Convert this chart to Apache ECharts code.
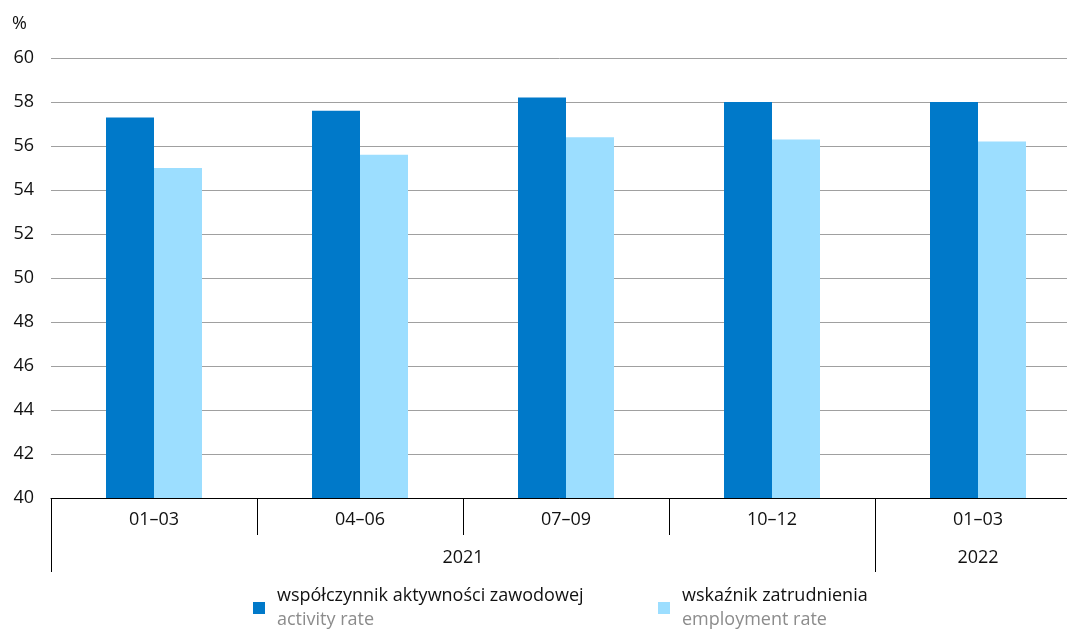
<!DOCTYPE html>
<html>
<head>
<meta charset="utf-8">
<script src="https://cdn.jsdelivr.net/npm/echarts@6/dist/echarts.min.js"></script>
<style>html,body{margin:0;padding:0;background:#fff}#c{width:1067px;height:629px}</style>
</head>
<body>
<div id="c"></div>
<script>
const categories = ['01–03', '04–06', '07–09', '10–12', '01–03'];
const activityRate = [57.3, 57.6, 58.2, 58.0, 58.0];
const employmentRate = [55.0, 55.6, 56.4, 56.3, 56.2];
const yearLabels = ['2021', '2022'];
const yearSpans = [[0, 4], [4, 5]];
const seriesNamesPL = ['współczynnik aktywności zawodowej', 'wskaźnik zatrudnienia'];
const seriesNamesEN = ['activity rate', 'employment rate'];
const yTicks = [40, 42, 44, 46, 48, 50, 52, 54, 56, 58, 60];

const FONT = 'Open Sans';
const FS = 18;
const yearCenters = yearSpans.map(s => (s[0] + s[1]) / 2);
const yearBounds = yearSpans.map(s => s[0]);

const chart = echarts.init(document.getElementById('c'));
const legendItem = (i, left) => ({
  data: [seriesNamesPL[i]],
  left: left, top: 582,
  itemWidth: 12, itemHeight: 12,
  icon: 'rect',
  formatter: n => '{a|' + n + '}\n{b|' + seriesNamesEN[i] + '}',
  textStyle: {
    padding: [0, 0, 0, 7],
    rich: {
      a: { fontFamily: FONT, fontSize: FS, color: '#111', lineHeight: 24 },
      b: { fontFamily: FONT, fontSize: FS, color: '#8c8c8c', lineHeight: 24 }
    }
  }
});
chart.setOption({
  animation: false,
  grid: { left: 51, width: 1030, top: 58, bottom: 131, containLabel: false, outerBoundsMode: 'none' },
  legend: [legendItem(0, 248), legendItem(1, 653)],
  xAxis: [{
    type: 'category',
    data: categories,
    boundaryGap: true,
    axisLine: { show: true, lineStyle: { color: '#000', width: 1 } },
    axisTick: { show: true, interval: 0, length: 37, lineStyle: { color: '#000', width: 1 } },
    axisLabel: { interval: 0, margin: 13, fontFamily: FONT, fontSize: FS, color: '#111' }
  }, {
    type: 'value',
    min: 0, max: categories.length,
    position: 'bottom',
    axisLine: { show: false },
    splitLine: { show: false },
    axisTick: { show: true, customValues: yearBounds, length: 74, lineStyle: { color: '#000' } },
    axisLabel: {
      customValues: yearCenters,
      margin: 51,
      fontFamily: FONT, fontSize: FS, color: '#111',
      formatter: v => { const i = yearCenters.indexOf(v); return i >= 0 ? yearLabels[i] : ''; }
    }
  }],
  yAxis: {
    type: 'value',
    min: yTicks[0], max: yTicks[yTicks.length - 1], interval: 2,
    name: '%',
    nameLocation: 'end',
    nameGap: 25,
    nameTextStyle: { fontFamily: FONT, fontSize: FS, color: '#111', align: 'right', padding: [0, 24, 0, 0] },
    axisLine: { show: false },
    axisTick: { show: false },
    axisLabel: { margin: 17, fontFamily: FONT, fontSize: FS, color: '#111' },
    splitLine: { lineStyle: { color: '#a0a0a0', width: 1 } }
  },
  series: [{
    name: seriesNamesPL[0], type: 'bar', data: activityRate,
    barWidth: 48, barGap: '0%',
    itemStyle: { color: '#0079c9' }
  }, {
    name: seriesNamesPL[1], type: 'bar', data: employmentRate,
    barWidth: 48, barGap: '0%',
    itemStyle: { color: '#9cdeff' }
  }]
});
</script>
</body>
</html>
